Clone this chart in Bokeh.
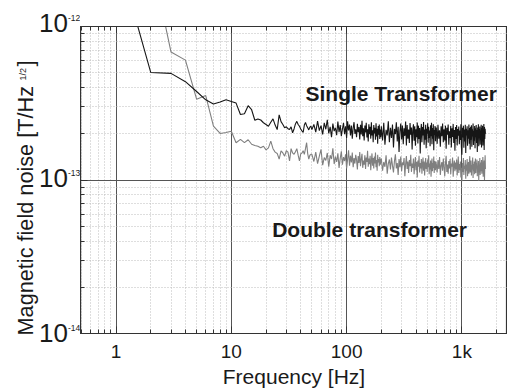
import numpy as np
from bokeh.plotting import figure
from bokeh.layouts import row
from bokeh.models import LogAxis, Label, FixedTicker, Range1d, CustomJSTickFormatter
from bokeh.embed import file_html
from bokeh.resources import INLINE

# ---------------- data ----------------
# frequency bins [Hz]
freq_a = np.arange(1, 50, 1)
freq_b = np.arange(50, 200, 2)
freq_c = np.arange(200, 600, 5)
freq_d = np.arange(600, 1601, 10)

# noise values in fT/Hz^1/2
single_a = [3200, 502, 495, 437, 377, 333, 313, 322, 333, 325,
            317, 267, 270, 305, 287, 245, 250, 246, 236, 230,
            224, 238, 250, 228, 213, 266, 240, 230, 219, 222,
            216, 213, 222, 203, 215, 232, 241, 230, 224, 215,
            209, 204, 228, 237, 226, 219, 212, 221, 224]
single_b = [213, 230, 205, 242, 210, 226, 198, 236, 214, 247,
            201, 222, 190, 233, 208, 219, 196, 240, 205, 228,
            193, 215, 236, 199, 224, 188, 241, 210, 230, 195,
            226, 186, 219, 238, 200, 214, 190, 232, 205, 221,
            184, 229, 198, 243, 193, 217, 181, 226, 204, 236,
            189, 214, 178, 231, 199, 222, 186, 238, 195, 211,
            176, 228, 201, 219, 183, 234, 192, 216, 172, 225,
            197, 230, 185, 213, 190]
single_c = [224, 181, 236, 170, 212, 195, 241, 176, 219, 188,
            230, 163, 215, 199, 238, 178, 222, 152, 209, 233,
            184, 226, 171, 217, 194, 240, 168, 228, 186, 213,
            174, 235, 197, 220, 158, 211, 231, 180, 224, 167,
            214, 190, 237, 173, 226, 185, 218, 149, 207, 232,
            176, 221, 195, 239, 170, 213, 183, 229, 161, 216,
            200, 234, 175, 222, 188, 210, 166, 227, 193, 236,
            171, 218, 186, 231, 156, 212, 197, 225, 179, 220]
single_d = [218, 172, 229, 186, 211, 165, 224, 193, 233, 176,
            214, 181, 226, 160, 219, 197, 230, 170, 208, 188,
            225, 163, 217, 191, 232, 174, 212, 155, 221, 185,
            228, 168, 215, 194, 223, 171, 210, 182, 231, 164,
            146, 219, 189, 226, 162, 213, 178, 229, 150, 216,
            195, 224, 167, 211, 186, 230, 172, 218, 158, 222,
            183, 227, 165, 214, 192, 233, 169, 209, 180, 225,
            161, 217, 190, 228, 174, 212, 152, 220, 187, 231,
            166, 215, 196, 223, 170, 210, 184, 229, 163, 218,
            179, 226, 168, 213, 193, 232, 157, 221, 185, 216,
            200]

double_a = [4000, 2860, 682, 604, 336, 355, 224, 201, 204, 208,
            175, 184, 175, 183, 171, 168, 166, 162, 166, 157,
            162, 179, 160, 152, 149, 137, 155, 150, 143, 155,
            152, 133, 160, 150, 147, 153, 160, 145, 133, 148,
            150, 155, 147, 160, 175, 148, 137, 145, 147]
double_b = [147, 132, 152, 128, 143, 158, 125, 140, 134, 150,
            122, 145, 137, 161, 127, 142, 131, 149, 120, 138,
            154, 126, 141, 133, 147, 119, 136, 156, 124, 144,
            130, 151, 121, 139, 128, 146, 135, 117, 143, 129,
            152, 123, 137, 148, 120, 134, 126, 145, 118, 140,
            131, 155, 122, 138, 127, 144, 116, 133, 149, 124,
            139, 119, 142, 128, 151, 121, 135, 115, 146, 130,
            137, 123, 141, 126, 134]
double_c = [138, 115, 131, 122, 145, 110, 128, 136, 117, 140,
            124, 112, 133, 147, 119, 129, 108, 137, 121, 142,
            114, 130, 125, 139, 106, 127, 143, 118, 132, 111,
            135, 123, 146, 113, 128, 120, 138, 109, 126, 141,
            116, 131, 104, 134, 122, 144, 112, 129, 119, 137,
            110, 127, 140, 115, 132, 107, 125, 139, 118, 130,
            113, 136, 121, 145, 109, 128, 117, 134, 105, 124,
            138, 114, 129, 120, 142, 111, 126, 133, 116, 131]
double_d = [127, 112, 135, 118, 141, 108, 124, 131, 115, 138,
            121, 106, 129, 144, 113, 126, 110, 133, 119, 137,
            109, 128, 122, 140, 105, 125, 134, 114, 130, 117,
            136, 107, 123, 142, 111, 127, 116, 132, 104, 120,
            98, 129, 113, 139, 108, 124, 118, 135, 102, 126,
            115, 137, 106, 122, 131, 110, 128, 143, 112, 121,
            134, 107, 125, 117, 140, 103, 127, 114, 132, 109,
            123, 138, 111, 129, 119, 136, 106, 124, 115, 133,
            99, 126, 112, 139, 108, 121, 130, 114, 135, 110,
            125, 117, 141, 105, 128, 120, 134, 100, 122, 145,
            118]

x_major = [1, 10, 100, 1000]
y_major = [1e-14, 1e-13, 1e-12]
y_exp_labels = ["-14", "-13", "-12"]

FONT = "Liberation Sans"
TXT = "#1a1a1a"
fT = 1e-15

freq = np.concatenate([freq_a, freq_b, freq_c, freq_d]).astype(float)
single = np.array(single_a + single_b + single_c + single_d, dtype=float) * fT
double = np.array(double_a + double_b + double_c + double_d, dtype=float) * fT
assert len(freq) == len(single) == len(double)

x_minor = [m * 10.0 ** e for e in range(-1, 4) for m in range(2, 10)]
y_minor = [m * 10.0 ** e for e in (-14, -13) for m in range(2, 10)]

# ---------------- layout geometry ----------------
FIG_H = 390
LEFT_W = 80
FRAME_TOP = 26
FRAME_H = 310
BOTTOM = FIG_H - FRAME_TOP - FRAME_H
BL = 0.33  # baseline correction (fraction of font size)

# ---------------- main plot ----------------
p = figure(width=427, height=FIG_H, x_axis_type="log", y_axis_type="log",
           x_range=Range1d(0.492, 2486), y_range=Range1d(1e-14, 1e-12),
           output_backend="svg", toolbar_location=None,
           min_border_left=0, min_border_right=0, min_border_top=FRAME_TOP,
           min_border_bottom=BOTTOM)
p.frame_align = False
p.background_fill_color = "white"
p.border_fill_color = "white"
p.outline_line_color = "#333333"
p.outline_line_width = 1.2

xt = FixedTicker(ticks=x_major, minor_ticks=x_minor)
yt = FixedTicker(ticks=y_major, minor_ticks=y_minor)
bottom_ax = p.below[0]
left_ax = p.left[0]
bottom_ax.ticker = xt
left_ax.ticker = yt
p.xgrid.ticker = xt
p.ygrid.ticker = yt

bottom_ax.formatter = CustomJSTickFormatter(
    code="return tick >= 1000 ? (Math.round(tick/1000)) + 'k' : String(Math.round(tick));")
left_ax.formatter = CustomJSTickFormatter(code="return '';")
left_ax.major_label_text_font_size = "0px"

top_ax = LogAxis(ticker=xt, formatter=CustomJSTickFormatter(code="return '';"),
                 major_label_text_font_size="0px")
p.add_layout(top_ax, "above")

for ax in [bottom_ax, left_ax, top_ax]:
    ax.major_tick_in = 7
    ax.major_tick_out = 0
    ax.minor_tick_in = 4
    ax.minor_tick_out = 0
    ax.axis_line_color = "#333333"
    ax.axis_line_width = 1.2
    ax.major_tick_line_color = "#333333"
    ax.minor_tick_line_color = "#333333"
    ax.major_label_standoff = 0

bottom_ax.major_label_standoff = 7
bottom_ax.major_label_text_font = FONT
bottom_ax.major_label_text_font_size = "19px"
bottom_ax.major_label_text_color = TXT
bottom_ax.axis_label = "Frequency [Hz]"
bottom_ax.axis_label_text_font = FONT
bottom_ax.axis_label_text_font_size = "21px"
bottom_ax.axis_label_text_font_style = "normal"
bottom_ax.axis_label_text_color = TXT
bottom_ax.axis_label_standoff = 0

for g in (p.xgrid[0], p.ygrid[0]):
    g.grid_line_color = "#555555"
    g.grid_line_width = 1
    g.minor_grid_line_color = "#bdbdbd"
    g.minor_grid_line_dash = "1 2"
    g.minor_grid_line_width = 1

p.line(freq, double, line_color="#7f7f7f", line_width=1.1)
p.line(freq, single, line_color="#161616", line_width=1.1)

p.add_layout(Label(text="Single Transformer", x=44.0, y=3.66e-13,
                   text_font=FONT, text_font_size="21px", text_font_style="bold",
                   text_color=TXT, text_align="left", text_baseline="alphabetic"))
p.add_layout(Label(text="Double transformer", x=22.6, y=4.74e-14,
                   text_font=FONT, text_font_size="21px", text_font_style="bold",
                   text_color=TXT, text_align="left", text_baseline="alphabetic"))

# ---------------- left strip: y tick labels and y axis title ----------------
lf = figure(width=LEFT_W, height=FIG_H, x_range=Range1d(0, LEFT_W),
            y_range=Range1d(FIG_H, 0), output_backend="svg", toolbar_location=None,
            min_border=0, min_border_left=0, min_border_right=0,
            min_border_top=0, min_border_bottom=0)
lf.frame_align = False
lf.xaxis.visible = False
lf.yaxis.visible = False
lf.xgrid.visible = False
lf.ygrid.visible = False
lf.outline_line_color = None
lf.background_fill_color = "white"
lf.border_fill_color = "white"


def lab(text, x, y, size, **kw):
    lf.add_layout(Label(text=text, x=x, y=y, text_font=FONT,
                        text_font_size=f"{size}px", text_color=TXT, **kw))


for v, e in zip(y_major, y_exp_labels):
    py = FRAME_TOP + (-12 - np.log10(v)) * FRAME_H / 2
    lab("10", 67.5, py + 5.5 - BL * 26, 26, text_align="right",
        text_baseline="alphabetic")
    lab(e, 67.5, py - 6 - BL * 8.5, 8.5, text_align="left",
        text_baseline="alphabetic")

lab("Magnetic field noise [T/Hz", 32 - BL * 21.7, 335, 21.7, angle=np.pi / 2,
    text_align="left", text_baseline="alphabetic")
lab("1/2", 25 - BL * 9, 80, 9, angle=np.pi / 2, text_align="left",
    text_baseline="alphabetic")
lab("]", 32 - BL * 21.7, 66, 21.7, angle=np.pi / 2, text_align="left",
    text_baseline="alphabetic")

layout = row(lf, p, spacing=0)
open("out.html", "w").write(file_html(layout, INLINE))
